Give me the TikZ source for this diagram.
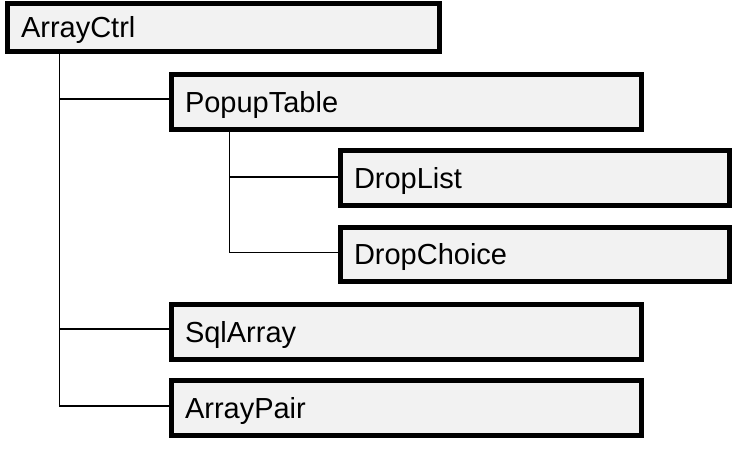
\documentclass[tikz,border=0pt]{standalone}
\usepackage{fontspec}
\setmainfont{Liberation Sans}
\definecolor{boxfill}{HTML}{F2F2F2}
\begin{document}
\begin{tikzpicture}[x=1pt,y=-1pt,
  box/.style={draw=black, line width=5pt, fill=boxfill, rectangle,
    inner xsep=13.5pt, inner ysep=0pt, align=left,
    text height=20.6pt, text depth=0pt,
    font=\fontsize{29}{34}\selectfont},
  conn/.style={draw=black, line width=1.5pt}]
\useasboundingbox (0,0) rectangle (756,462);
\fill[white] (0,0) rectangle (756,462);
\node[box, minimum width=432pt, minimum height=48pt, text width=405pt] (ArrayCtrl) at (223.5,27.5) {ArrayCtrl};
\node[box, minimum width=470pt, minimum height=55pt, text width=443pt] (PopupTable) at (406.5,102) {PopupTable};
\node[box, minimum width=389pt, minimum height=55pt, text width=362pt] (DropList) at (535,178) {DropList};
\node[box, minimum width=389pt, minimum height=54pt, text width=362pt] (DropChoice) at (535,254.5) {DropChoice};
\node[box, minimum width=470pt, minimum height=55pt, text width=443pt] (SqlArray) at (406.5,332) {SqlArray};
\node[box, minimum width=470pt, minimum height=55pt, text width=443pt] (ArrayPair) at (406.5,408) {ArrayPair};
\coordinate (a1) at (59.5,99);
\coordinate (a2) at (59.5,329);
\coordinate (a3) at (59.5,406);
\coordinate (b1) at (229.5,177);
\coordinate (b2) at (229.5,252.5);
\draw[conn] (ArrayCtrl.south -| a3) -- (a3) -- (a3 -| ArrayPair.west);
\draw[conn] (a1) -- (a1 -| PopupTable.west);
\draw[conn] (a2) -- (a2 -| SqlArray.west);
\draw[conn] (PopupTable.south -| b2) -- (b2) -- (b2 -| DropChoice.west);
\draw[conn] (b1) -- (b1 -| DropList.west);
\end{tikzpicture}
\end{document}
